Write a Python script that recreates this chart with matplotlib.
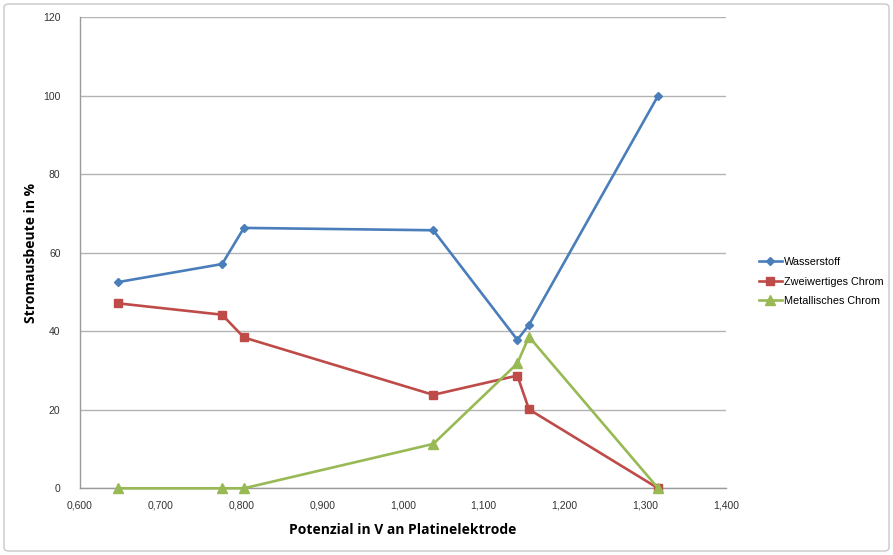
import matplotlib
matplotlib.use("Agg")
import matplotlib.pyplot as plt
from matplotlib.patches import FancyBboxPatch
from matplotlib.ticker import FuncFormatter, MultipleLocator

potential = [0.647, 0.776, 0.803, 1.0375, 1.1416, 1.156, 1.316]
wasserstoff = [52.5, 57.1, 66.3, 65.7, 37.8, 41.6, 100.0]
zweiwertig = [47.1, 44.2, 38.4, 23.8, 28.7, 20.1, 0.0]
metallisch = [0.0, 0.0, 0.0, 11.3, 31.8, 38.6, 0.0]

series_names = ["Wasserstoff", "Zweiwertiges Chrom", "Metallisches Chrom"]
colors = ["#4A7EBB", "#BE4B48", "#98B954"]
markers = ["D", "s", "^"]
msizes = [4.5, 6.3, 6.5]

plt.rcParams["font.family"] = ["Liberation Sans", "DejaVu Sans"]

fig = plt.figure(figsize=(8.93, 5.55), dpi=100)
ax = fig.add_axes([80 / 893, 1 - 488.3 / 555, 646 / 893, 471.3 / 555])

for ys, name, c, m, ms in zip([wasserstoff, zweiwertig, metallisch],
                              series_names, colors, markers, msizes):
    ax.plot(potential, ys, color=c, lw=1.9, marker=m, ms=ms,
            markeredgecolor=c, label=name, zorder=3, clip_on=False)

ax.set_xlim(0.6, 1.4)
ax.set_ylim(0, 120)
ax.xaxis.set_major_locator(MultipleLocator(0.1))
ax.yaxis.set_major_locator(MultipleLocator(20))
ax.xaxis.set_major_formatter(FuncFormatter(lambda v, p: f"{v:.3f}".replace(".", ",")))
ax.yaxis.set_major_formatter(FuncFormatter(lambda v, p: f"{v:.0f}"))
ax.grid(axis="y", color="#B3B3B3", lw=1.0)
ax.set_axisbelow(True)
for s in ["top", "right"]:
    ax.spines[s].set_visible(False)
for s in ["left", "bottom"]:
    ax.spines[s].set_color("#9A9A9A")
    ax.spines[s].set_linewidth(1.0)
ax.tick_params(axis="both", length=0, labelsize=7.5, colors="#333333")
ax.tick_params(axis="y", pad=14)
ax.tick_params(axis="x", pad=9)

ax.set_xlabel("Potenzial in V an Platinelektrode", fontsize=10, fontweight="bold",
              family=["Open Sans", "DejaVu Sans"], labelpad=9)
ax.set_ylabel("Stromausbeute in %", fontsize=10, fontweight="bold",
              family=["Open Sans", "DejaVu Sans"], va="center")
ax.yaxis.set_label_coords(-0.076, 0.5)

leg = fig.legend(loc="upper left", bbox_to_anchor=(749 / 893, 1 - 247 / 555),
                 frameon=False, fontsize=7.8, handlelength=2.1,
                 labelspacing=0.9, handletextpad=0.25)

fig.patches.append(FancyBboxPatch((4 / 893, 4 / 555), 885 / 893, 547 / 555,
                                  boxstyle="round,pad=0,rounding_size=0.006",
                                  transform=fig.transFigure, fill=False,
                                  edgecolor="#C8C8C8", lw=1.0))

fig.savefig("out.png", dpi=100)
